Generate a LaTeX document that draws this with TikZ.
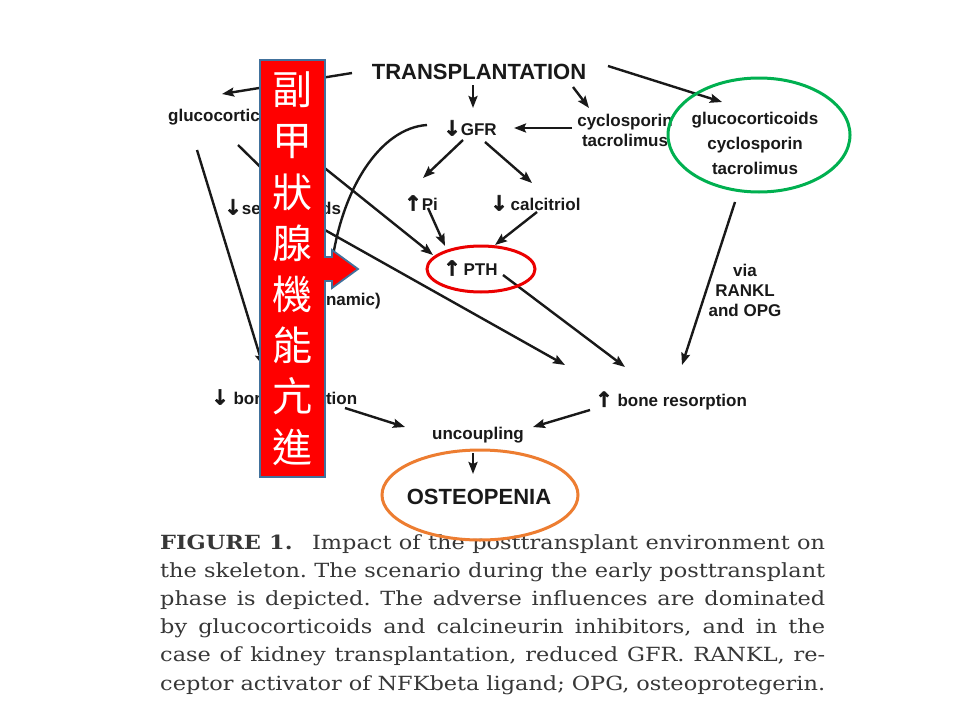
\documentclass[tikz,border=0pt]{standalone}
\usepackage{fontspec}
\setmainfont{Liberation Sans}
\newfontfamily\capfont[FakeStretch=1.15]{DejaVu Serif}
\newfontfamily\arrfont[FakeBold=2.5]{DejaVu Sans}
\newfontfamily\cjk{Noto Sans CJK TC}
\usetikzlibrary{arrows.meta,calc}
\definecolor{figink}{RGB}{25,25,25}
\definecolor{capink}{RGB}{55,55,55}
\definecolor{boxred}{RGB}{255,0,0}
\definecolor{boxedge}{RGB}{65,113,156}
\definecolor{ringgreen}{RGB}{0,176,80}
\definecolor{ringred}{RGB}{235,0,0}
\definecolor{ringorange}{RGB}{237,125,49}
\newcommand{\arrdown}{{\arrfont\fontsize{21}{21}\selectfont ↓}}
\newcommand{\arrup}{{\arrfont\fontsize{21}{21}\selectfont ↑}}

\begin{document}
\begin{tikzpicture}[x=1pt, y=-1pt,
    lbl/.style={font=\fontsize{17}{20}\selectfont\bfseries, text=figink, inner sep=0pt},
    big/.style={font=\fontsize{22}{26}\selectfont\bfseries, text=figink, inner sep=0pt},
    arr/.style={-{Stealth[length=12pt,width=9pt,inset=2pt]}, line width=2.4pt, draw=figink},
    ring/.style={line width=3pt},
    zh/.style={font=\cjk\fontsize{40}{40}\selectfont, text=white, inner sep=0pt},
    capline/.style={font=\capfont\fontsize{19.5}{22}\selectfont\frenchspacing, text=capink, inner sep=0pt, anchor=base west}]

    \useasboundingbox[fill=white] (0,0) rectangle (960,720);

    % --- labels of the figure ---
    \node[big] (trans) at (479,72) {TRANSPLANTATION};
    \node[lbl, anchor=west] (glucL) at (168,117) {glucocorticoids};
    \node[lbl, anchor=west] (gfr) at (443,128) {\arrdown GFR};
    \node[lbl, align=center] (cyclo) at (625,130) {cyclosporin\\tacrolimus};
    \node[lbl, align=center, font=\fontsize{17}{25}\selectfont\bfseries] (glucR) at (755,143) {glucocorticoids\\cyclosporin\\tacrolimus};
    \node[lbl, anchor=west] (pi) at (404,203) {\arrup Pi};
    \node[lbl, anchor=west] (calci) at (490,203) {\arrdown\,calcitriol};
    \node[lbl, anchor=west] (sex) at (224,207) {\arrdown sex steroids};
    \node[lbl, anchor=west] (pth) at (443,268) {\arrup\,PTH};
    \node[lbl, anchor=east] (adyn) at (381,301) {(adynamic)};
    \node[lbl, align=center] (via) at (745,290) {via\\RANKL\\and OPG};
    \node[lbl, anchor=west] (bform) at (211,397) {\arrdown\ bone formation};
    \node[lbl, anchor=west] (bres) at (595,401) {\arrup\ bone resorption};
    \node[lbl] (uncoup) at (478,435) {uncoupling};
    \node[big] (osteo) at (479,497) {OSTEOPENIA};

    % --- arrows ---
    \draw[arr] ([shift={(-127,1)}]trans.center) -- ([shift={(54,-23)}]glucL.west);
    \draw[arr] ([shift={(-6,13)}]trans.center) -- ([shift={(30,-20)}]gfr.west);
    \draw[arr] ([shift={(94,15)}]trans.center) -- ([shift={(-36,-22)}]cyclo.center);
    \draw[arr] ([shift={(129,-6)}]trans.center) -- ([shift={(-33,-41)}]glucR.center);
    \draw[arr] ([shift={(-53,-2)}]cyclo.center) -- ([shift={(71,0)}]gfr.west);
    \draw[arr] ([shift={(20,12)}]gfr.west) -- ([shift={(19,-25)}]pi.west);
    \draw[arr] ([shift={(42,14)}]gfr.west) -- ([shift={(42,-20)}]calci.west);
    \draw[arr] ([shift={(24,5)}]pi.west) -- ([shift={(2,-22)}]pth.west);
    \draw[arr] ([shift={(47,9)}]calci.west) -- ([shift={(52,-23)}]pth.west);
    \draw[arr] ([shift={(118,20)}]glucL.west) -- ([shift={(-10,-13)}]pth.west);
    \draw[arr] ([shift={(70,28)}]glucL.west) -- ([shift={(64,-13)}]sex.west);
    \draw[arr] ([shift={(76,9)}]sex.west) -- ([shift={(-30,-36)}]bres.west);
    \draw[arr] ([shift={(60,7)}]pth.west) -- ([shift={(30,-34)}]bres.west);
    \draw[arr] ([shift={(-20,59)}]glucR.center) -- ([shift={(87,-36)}]bres.west);
    \draw[arr] ([shift={(29,33)}]glucL.west) -- ([shift={(52,-31)}]bform.west);
    \draw[arr] ([shift={(-16,-3)}]gfr.west) .. controls ([shift={(-63,0)}]gfr.west) and ([shift={(-41,-111)}]adyn.east) .. ([shift={(-51,-21)}]adyn.east);
    \draw[arr] ([shift={(134,11)}]bform.west) -- ([shift={(-73,-8)}]uncoup.center);
    \draw[arr] ([shift={(-5,9)}]bres.west) -- ([shift={(55,-8)}]uncoup.center);
    \draw[arr] ([shift={(-5,18)}]uncoup.center) -- ([shift={(-6,-23)}]osteo.center);

    % --- caption ---
    \foreach \txt [count=\i] in {{{\bfseries FIGURE 1.}\quad Impact of the posttransplant environment on},
        {the skeleton. The scenario during the early posttransplant},
        {phase is depicted. The adverse influences are dominated},
        {by glucocorticoids and calcineurin inhibitors, and in the},
        {case of kidney transplantation, reduced GFR. RANKL, re-},
        {ceptor activator of NFKbeta ligand; OPG, osteoprotegerin.}}{
        \node[capline] (cap\i) at (160,{549+28.2*(\i-1)}) {\makebox[665pt][s]{\txt}};
    }

    % --- highlight rings ---
    \draw[ring, ringgreen] (759,135) ellipse [x radius=91, y radius=57];
    \draw[ring, ringred] (481,269) ellipse [x radius=54, y radius=23];
    \draw[ring, ringorange] (480,495) ellipse [x radius=98, y radius=45];

    % --- red callout with vertical text ---
    \draw[fill=boxred, draw=boxedge, line width=1.8pt] (260,60) -- (325,60) -- (325,257) -- (332,257)
        -- (332,250) -- (358,269) -- (332,288) -- (332,281) -- (325,281) -- (325,477) -- (260,477) -- cycle;
    \foreach \ch [count=\i] in {副,甲,狀,腺,機,能,亢,進}
        \node[zh] (zh\i) at (292.5,{90+51.07*(\i-1)}) {\ch};
\end{tikzpicture}
\end{document}
